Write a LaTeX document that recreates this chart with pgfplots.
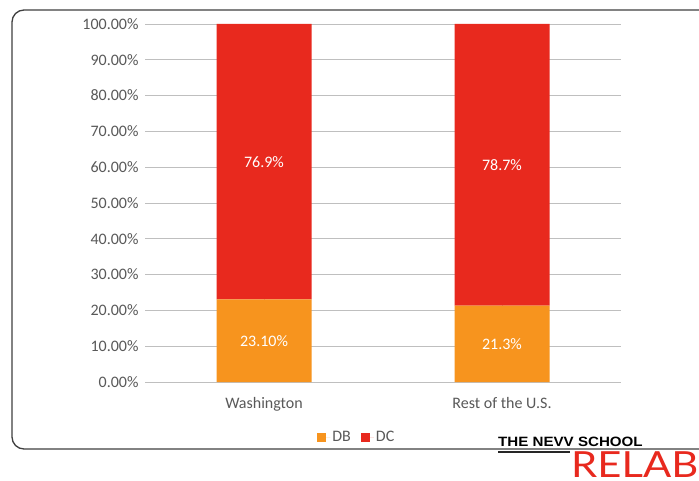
\documentclass[border=0pt]{standalone}
\usepackage{pgfplots}
\pgfplotsset{compat=1.18}
\usepackage{pgfplotstable}
\usepackage{fontspec}
\setmainfont{Carlito}
\newfontfamily\logobold{Liberation Sans}
\newfontfamily\relabfont{Lato}
\definecolor{dbc}{RGB}{247,148,30}
\definecolor{dcc}{RGB}{232,41,30}
\definecolor{txt}{RGB}{89,89,89}
\definecolor{grid}{RGB}{222,222,222}
\pgfplotstableread{
x db dblab dc dclab
0 23.1 23.10 76.9 76.9
1 21.3 21.3 78.7 78.7
}\datatab
\begin{document}
\begin{tikzpicture}
\useasboundingbox (0,0) rectangle (699pt,480pt);
\fill[white] (0,0) rectangle (699pt,480pt);
\draw[rounded corners=12pt, line width=1.3pt, black!75] (12pt,31pt) rectangle (730pt,470pt);
\begin{axis}[
  at={(145pt,98pt)}, anchor=south west,
  scale only axis, width=476pt, height=358pt,
  ybar stacked, bar width=95pt,
  xmin=-0.5, xmax=1.5, ymin=0, ymax=100,
  xtick=data, xticklabels={Washington, Rest of the U.S.},
  ytick={0,10,...,100},
  ymajorgrids, grid style={grid, line width=0.8pt},
  axis line style={draw=none},
  major tick length=0pt,
  /pgf/number format/assume math mode=true,
  yticklabel={\pgfmathprintnumber[fixed,fixed zerofill,precision=2]{\tick}\%},
  tick label style={font=\fontsize{16}{18}\selectfont, text=txt},
  yticklabel style={xshift=-3pt},
  xticklabel style={yshift=-12pt},
  legend style={at={(0.445,-0.154)}, anchor=center, draw=none, font=\fontsize{16}{18}\selectfont, text=txt, legend columns=2, /tikz/every even column/.append style={column sep=8pt}},
  legend image code/.code={\path (0pt,0pt) -- (13pt,0pt); \fill[#1, draw=none] (0pt,-4.5pt) rectangle (9pt,4.5pt);},
  point meta=explicit symbolic,
  nodes near coords={\pgfplotspointmeta\%},
  every node near coord/.append style={font=\fontsize{16}{18}\selectfont, text=white, anchor=center},
]
\addplot[fill=dbc, draw=none] table[x=x, y=db, meta=dblab] {\datatab};
\addplot[fill=dcc, draw=none] table[x=x, y=dc, meta=dclab] {\datatab};
\legend{DB, DC}
\end{axis}
% logo
\node[anchor=base west, inner sep=0pt, font=\logobold\bfseries\fontsize{13.5}{14}\selectfont, xscale=1.12] at (498pt,34pt) {THE NEVV SCHOOL};
\draw[line width=1.8pt, black!85] (498pt,28pt) -- (570pt,28pt);
\node[anchor=base west, inner sep=0pt, font=\relabfont\fontsize{36}{40}\selectfont, text=dcc, xscale=1.16] at (571pt,2.5pt) {RELAB};
\end{tikzpicture}
\end{document}
